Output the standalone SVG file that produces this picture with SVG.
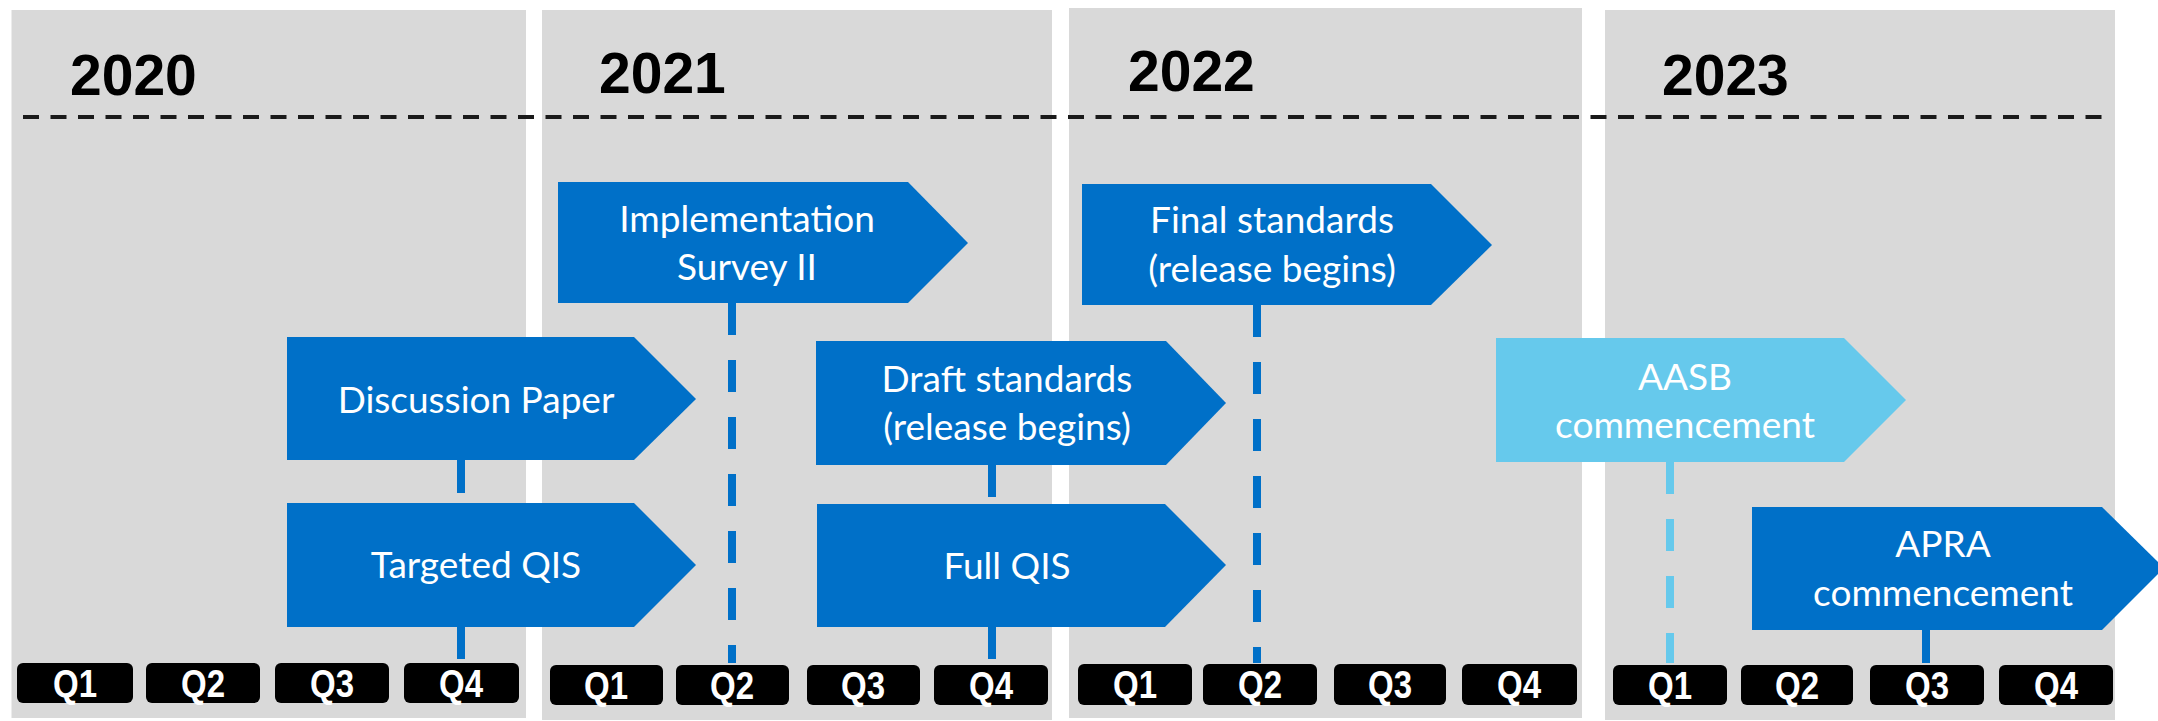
<svg xmlns="http://www.w3.org/2000/svg" width="2158" height="721" viewBox="0 0 2158 721">
<style>
.panel{fill:#D9D9D9}
.year{font-family:"Liberation Sans",Arial,sans-serif;font-weight:bold;font-size:57px;fill:#000}
.qbox{fill:#000}
.qtxt{font-family:"Liberation Sans",Arial,sans-serif;font-weight:bold;font-size:38px;fill:#fff;text-anchor:middle}
.dark{fill:#0070C8}
.light{fill:#66C9EC}
.lbl{font-family:Lato,"Open Sans",sans-serif;font-size:37px;fill:#fff;text-anchor:middle}
.conn{stroke:#0070C8;stroke-width:8;fill:none}
.connL{stroke:#66C9EC;stroke-width:8;fill:none}
.dash{stroke-dasharray:32 25}
</style>
<rect width="2158" height="721" fill="#fff"/>
<g id="panels">
<rect class="panel" x="11.5" y="10" width="514.5" height="708"/>
<rect class="panel" x="542" y="10" width="510" height="710"/>
<rect class="panel" x="1069" y="8" width="513" height="710"/>
<rect class="panel" x="1605" y="10" width="510" height="710"/>
</g>
<g id="years">
<text class="year" x="70" y="95">2020</text>
<text class="year" x="599" y="93">2021</text>
<text class="year" x="1128" y="91">2022</text>
<text class="year" x="1662" y="95">2023</text>
</g>
<line id="year-line" x1="23" y1="117" x2="2106" y2="117" stroke="#1a1a1a" stroke-width="4" stroke-dasharray="16 11.5"/>
<g id="connectors">
<path class="conn" d="M461 460V493"/>
<path class="conn" d="M461 627V659"/>
<path class="conn dash" d="M732 303V663"/>
<path class="conn" d="M992 465V497"/>
<path class="conn" d="M992 627V659"/>
<path class="conn dash" d="M1257 305V663"/>
<path class="connL dash" d="M1670 462V663"/>
<path class="conn" d="M1926 630V663"/>
</g>
<g id="node-implementation">
<polygon class="dark" points="558,182 908,182 968,243 908,303 558,303"/>
<text class="lbl" x="747" y="232">Implementation</text>
<text class="lbl" x="747" y="280">Survey II</text>
</g>
<g id="node-discussion">
<polygon class="dark" points="287,337 634,337 696,399 634,460 287,460"/>
<text class="lbl" x="476" y="413">Discussion Paper</text>
</g>
<g id="node-targeted">
<polygon class="dark" points="287,503 634,503 696,565 634,627 287,627"/>
<text class="lbl" x="476" y="578">Targeted QIS</text>
</g>
<g id="node-draft">
<polygon class="dark" points="816,341 1166,341 1226,403 1166,465 816,465"/>
<text class="lbl" x="1007" y="392">Draft standards</text>
<text class="lbl" x="1007" y="440">(release begins)</text>
</g>
<g id="node-fullqis">
<polygon class="dark" points="817,504 1165,504 1226,565 1165,627 817,627"/>
<text class="lbl" x="1007" y="579">Full QIS</text>
</g>
<g id="node-final">
<polygon class="dark" points="1082,184 1431,184 1492,245 1431,305 1082,305"/>
<text class="lbl" x="1272" y="233">Final standards</text>
<text class="lbl" x="1272" y="282">(release begins)</text>
</g>
<g id="node-aasb">
<polygon class="light" points="1496,338 1844,338 1906,400 1844,462 1496,462"/>
<text class="lbl" x="1685" y="390">AASB</text>
<text class="lbl" x="1685" y="438">commencement</text>
</g>
<g id="node-apra">
<polygon class="dark" points="1752,507 2102,507 2164,568 2102,630 1752,630"/>
<text class="lbl" x="1943" y="557">APRA</text>
<text class="lbl" x="1943" y="606">commencement</text>
</g>
<g id="quarters-2020">
<rect class="qbox" x="17" y="663" width="116" height="40" rx="6"/><text class="qtxt" x="75" y="697" textLength="44" lengthAdjust="spacingAndGlyphs">Q1</text>
<rect class="qbox" x="146" y="663" width="114" height="40" rx="6"/><text class="qtxt" x="203" y="697" textLength="44" lengthAdjust="spacingAndGlyphs">Q2</text>
<rect class="qbox" x="275" y="663" width="114" height="40" rx="6"/><text class="qtxt" x="332" y="697" textLength="44" lengthAdjust="spacingAndGlyphs">Q3</text>
<rect class="qbox" x="404" y="663" width="115" height="40" rx="6"/><text class="qtxt" x="461" y="697" textLength="44" lengthAdjust="spacingAndGlyphs">Q4</text>
</g>
<g id="quarters-2021">
<rect class="qbox" x="550" y="665" width="113" height="40" rx="6"/><text class="qtxt" x="606" y="699" textLength="44" lengthAdjust="spacingAndGlyphs">Q1</text>
<rect class="qbox" x="676" y="665" width="113" height="40" rx="6"/><text class="qtxt" x="732" y="699" textLength="44" lengthAdjust="spacingAndGlyphs">Q2</text>
<rect class="qbox" x="807" y="665" width="113" height="40" rx="6"/><text class="qtxt" x="863" y="699" textLength="44" lengthAdjust="spacingAndGlyphs">Q3</text>
<rect class="qbox" x="934" y="665" width="114" height="40" rx="6"/><text class="qtxt" x="991" y="699" textLength="44" lengthAdjust="spacingAndGlyphs">Q4</text>
</g>
<g id="quarters-2022">
<rect class="qbox" x="1078" y="664" width="114" height="41" rx="6"/><text class="qtxt" x="1135" y="698" textLength="44" lengthAdjust="spacingAndGlyphs">Q1</text>
<rect class="qbox" x="1203" y="664" width="114" height="41" rx="6"/><text class="qtxt" x="1260" y="698" textLength="44" lengthAdjust="spacingAndGlyphs">Q2</text>
<rect class="qbox" x="1334" y="664" width="112" height="41" rx="6"/><text class="qtxt" x="1390" y="698" textLength="44" lengthAdjust="spacingAndGlyphs">Q3</text>
<rect class="qbox" x="1462" y="664" width="115" height="41" rx="6"/><text class="qtxt" x="1519" y="698" textLength="44" lengthAdjust="spacingAndGlyphs">Q4</text>
</g>
<g id="quarters-2023">
<rect class="qbox" x="1613" y="665" width="114" height="40" rx="6"/><text class="qtxt" x="1670" y="699" textLength="44" lengthAdjust="spacingAndGlyphs">Q1</text>
<rect class="qbox" x="1741" y="665" width="112" height="40" rx="6"/><text class="qtxt" x="1797" y="699" textLength="44" lengthAdjust="spacingAndGlyphs">Q2</text>
<rect class="qbox" x="1870" y="665" width="114" height="40" rx="6"/><text class="qtxt" x="1927" y="699" textLength="44" lengthAdjust="spacingAndGlyphs">Q3</text>
<rect class="qbox" x="1999" y="665" width="114" height="40" rx="6"/><text class="qtxt" x="2056" y="699" textLength="44" lengthAdjust="spacingAndGlyphs">Q4</text>
</g>
</svg>
